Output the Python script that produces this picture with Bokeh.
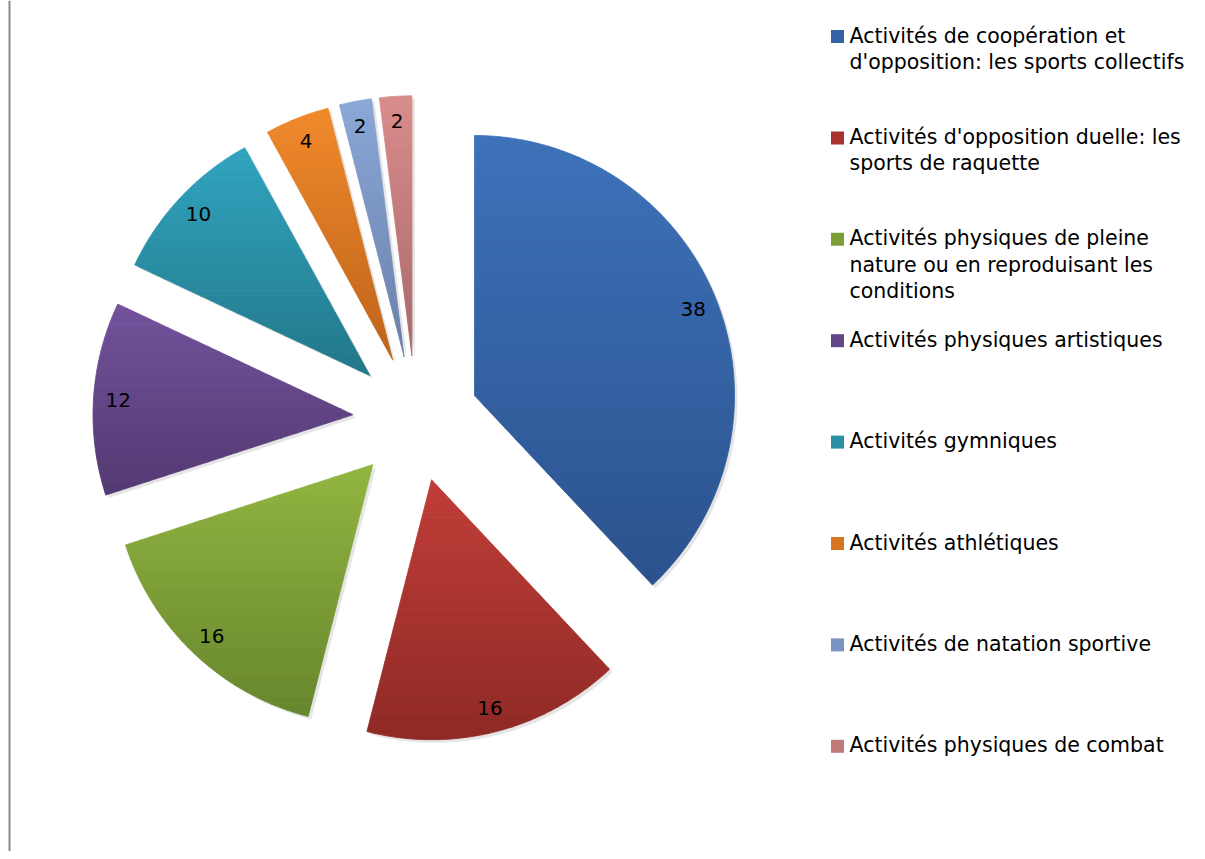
import math
from bokeh.plotting import figure
from bokeh.models import Range1d, Span, ColumnDataSource
from bokeh.core.properties import value
from bokeh.embed import file_html
from bokeh.resources import INLINE

# ---- data ----
categories = [
    "Activités de coopération et\nd'opposition: les sports collectifs",
    "Activités d'opposition duelle: les\nsports de raquette",
    "Activités physiques de pleine\nnature ou en reproduisant les\nconditions",
    "Activités physiques artistiques",
    "Activités gymniques",
    "Activités athlétiques",
    "Activités de natation sportive",
    "Activités physiques de combat",
]
values = [38, 16, 16, 12, 10, 4, 2, 2]
top_colors = ["#3d72ba", "#c13d38", "#92b541", "#72529c", "#31a4c0", "#f1892b", "#8aa7d8", "#da8c8c"]
bottom_colors = ["#2b528d", "#8e2924", "#67862c", "#533972", "#227788", "#bd631a", "#6a80a8", "#a86868"]

# ---- layout (pixel-like data units) ----
W, H = 1197, 851
CX, CY = 415.4, 432.8
R = 260.0
EXPLODE = 63.0
LABEL_R = 0.905 * R
FONT = "DejaVu Sans"

p = figure(width=W, height=H, output_backend="svg", toolbar_location=None,
           x_range=Range1d(0, W), y_range=Range1d(0, H),
           min_border=0, min_border_left=0, min_border_right=0,
           min_border_top=0, min_border_bottom=0)
p.axis.visible = False
p.grid.visible = False
p.outline_line_color = None
p.background_fill_color = "white"
p.border_fill_color = "white"

p.add_layout(Span(location=9, dimension="height", line_color="#8a8a8a", line_width=2))


def hex2rgb(h):
    h = h.lstrip("#")
    return tuple(int(h[i:i + 2], 16) for i in (0, 2, 4))


def mix(c1, c2, t):
    a, b = hex2rgb(c1), hex2rgb(c2)
    return "#%02x%02x%02x" % tuple(round(a[i] + (b[i] - a[i]) * t) for i in range(3))


def clip(poly, yv, keep_above):
    out = []
    n = len(poly)
    for i in range(n):
        cur, prev = poly[i], poly[i - 1]
        cin = cur[1] >= yv if keep_above else cur[1] <= yv
        pin = prev[1] >= yv if keep_above else prev[1] <= yv
        if cin:
            if not pin:
                t = (yv - prev[1]) / (cur[1] - prev[1])
                out.append((prev[0] + t * (cur[0] - prev[0]), yv))
            out.append(cur)
        elif pin:
            t = (yv - prev[1]) / (cur[1] - prev[1])
            out.append((prev[0] + t * (cur[0] - prev[0]), yv))
    return out


total = float(sum(values))
cum = 0.0
NB = 40
lab_x, lab_y, lab_t = [], [], []
for i, v in enumerate(values):
    a0 = math.radians(90 - cum / total * 360)
    a1 = math.radians(90 - (cum + v) / total * 360)
    cum += v
    mid = (a0 + a1) / 2
    ax = CX + EXPLODE * math.cos(mid)
    ay = CY + EXPLODE * math.sin(mid)
    npts = max(8, int(abs(a0 - a1) * 80))
    poly = [(ax, ay)] + [(ax + R * math.cos(a0 + (a1 - a0) * k / npts),
                          ay + R * math.sin(a0 + (a1 - a0) * k / npts)) for k in range(npts + 1)]
    ys_all = [pt[1] for pt in poly]
    ymin, ymax = min(ys_all), max(ys_all)
    # soft shadow
    p.patch([x + 3 for x, _ in poly], [y - 3 for _, y in poly], fill_color="black",
            fill_alpha=0.10, line_color=None)
    xs, ys, cols = [], [], []
    for b in range(NB):
        y_hi = ymax - (ymax - ymin) * b / NB
        y_lo = ymax - (ymax - ymin) * (b + 1) / NB
        piece = clip(clip(poly, y_lo, True), y_hi, False)
        if len(piece) < 3:
            continue
        xs.append([q[0] for q in piece])
        ys.append([q[1] for q in piece])
        cols.append(mix(top_colors[i], bottom_colors[i], (b + 0.5) / NB))
    src = ColumnDataSource(dict(xs=xs, ys=ys, color=cols))
    p.patches("xs", "ys", source=src, fill_color="color", line_color="color", line_width=0.8)
    lab_x.append(ax + LABEL_R * math.cos(mid))
    lab_y.append(ay + LABEL_R * math.sin(mid))
    lab_t.append(str(v))

# data labels
p.text(lab_x, lab_y, text=lab_t, text_align="center", text_baseline="middle",
       text_font=value(FONT), text_font_size="20px", text_color="black")

# legend (drawn manually so that the marker aligns with the first line)
LEG_FIRST = 851 - 36.0
LEG_STEP = 101.4
sq_x = [837.0] * len(categories)
sq_y = [LEG_FIRST - i * LEG_STEP for i in range(len(categories))]
mid_cols = [mix(t, b, 0.5) for t, b in zip(top_colors, bottom_colors)]
p.scatter(sq_x, sq_y, marker="square", size=13, fill_color=mid_cols, line_color=None)
p.text([849.0] * len(categories), [y + 13.0 for y in sq_y], text=categories,
       text_align="left", text_baseline="top", text_font=value(FONT),
       text_font_size="20.5px", text_color="black", text_line_height=1.1)

open("out.html", "w").write(file_html(p, INLINE))
